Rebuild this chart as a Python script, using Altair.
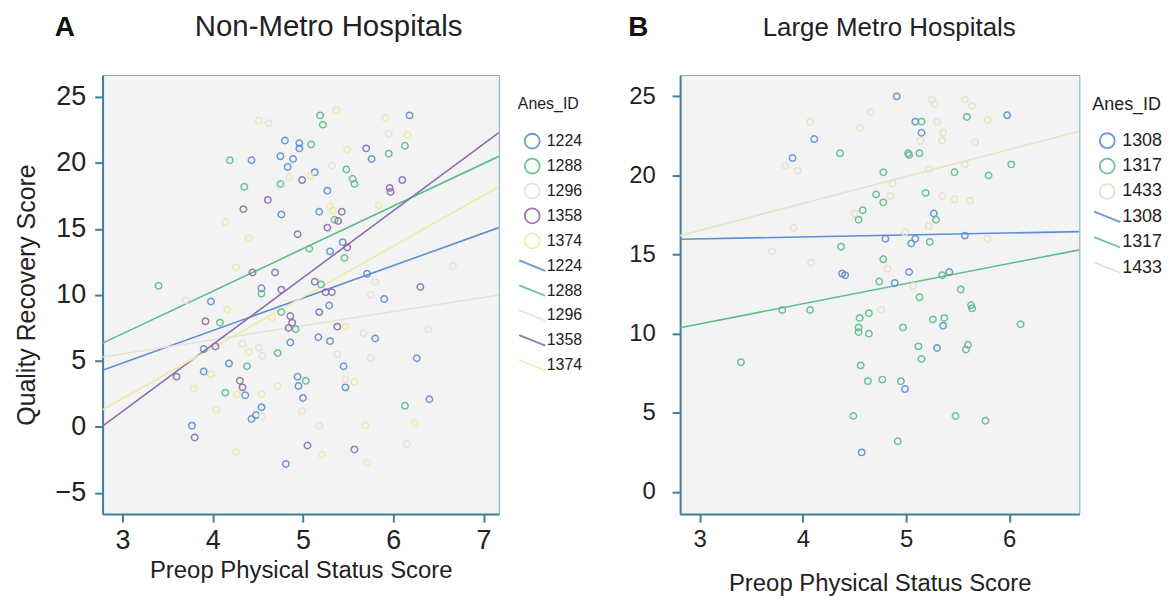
import altair as alt
import pandas as pd

# ---------------- Panel A: Non-Metro Hospitals ----------------
a_ids = ["1224", "1288", "1296", "1358", "1374"]
a_colors = ["#5b8fd3", "#5dbd8a", "#e2e5d3", "#8e6cae", "#f0e9a4"]

a_1224_x = [4.80, 4.43, 4.75, 4.89, 4.83, 4.96, 4.96, 4.76, 4.54, 3.98, 6.18, 5.76, 5.13, 5.27, 5.18,
            5.44, 5.30, 5.71, 5.29, 5.90, 4.86, 3.90, 4.18, 3.90, 4.36, 4.54, 4.48, 4.43, 4.94, 4.95,
            3.77, 4.81, 5.17, 5.30, 5.80, 6.26, 5.45, 5.47, 5.00, 6.40, 5.57]
a_1224_y = [21.7, 20.2, 20.5, 20.3, 19.7, 21.5, 21.1, 16.1, 10.5, 9.5, 23.6, 20.3, 19.3, 17.9, 16.3,
            14.0, 13.3, 11.6, 9.2, 9.7, 6.4, 5.9, 4.8, 4.2, 2.4, 1.5, 0.9, 0.6, 3.8, 3.1,
            0.1, -2.8, 6.8, 6.5, 6.7, 5.2, 4.6, 3.0, 2.2, 2.1, -1.7]

a_1288_x = [4.19, 4.35, 4.75, 3.40, 4.54, 5.19, 5.22, 5.09, 5.95, 6.13, 5.48, 5.55, 5.57, 5.35, 5.07,
            5.46, 5.20, 4.08, 4.76, 4.92, 4.38, 4.72, 4.14, 5.03, 6.13]
a_1288_y = [20.2, 18.2, 18.4, 10.7, 10.1, 23.6, 22.9, 21.4, 20.7, 21.3, 19.5, 18.8, 18.4, 15.7, 13.5,
            12.8, 10.8, 7.9, 8.7, 7.4, 4.6, 5.6, 2.6, 3.5, 1.6]

a_1296_x = [5.95, 5.32, 6.66, 5.80, 5.75, 4.33, 4.51, 4.55, 4.55, 5.67, 6.39, 5.75, 5.38, 5.47, 4.99,
            5.18, 6.15, 4.62, 3.70]
a_1296_y = [22.2, 19.8, 12.2, 11.0, 10.0, 6.3, 6.0, 5.4, 0.8, 7.1, 7.4, 5.2, 5.5, 3.6, 1.2,
            0.1, -1.3, 23.0, 9.6]

a_1358_x = [4.34, 4.61, 4.94, 4.44, 4.69, 4.76, 5.70, 4.99, 6.10, 5.96, 5.97, 5.43, 5.39, 5.27, 5.49,
            5.13, 5.25, 5.32, 6.30, 3.92, 4.86, 4.88, 4.84, 4.03, 3.60, 4.30, 4.33, 3.80, 5.18, 5.38,
            5.05]
a_1358_y = [16.5, 17.2, 14.6, 11.7, 11.7, 10.4, 21.1, 18.7, 18.7, 18.1, 17.8, 16.3, 15.6, 15.1, 13.6,
            11.0, 10.2, 10.2, 10.6, 8.0, 8.4, 7.9, 7.5, 6.1, 3.8, 3.5, 3.0, -0.8, 8.7, 7.6,
            -1.4]

a_1374_x = [4.51, 4.85, 4.14, 4.40, 4.26, 5.37, 5.91, 6.16, 5.49, 5.08, 5.84, 5.30, 5.33, 4.16, 4.66,
            4.40, 3.79, 3.98, 4.27, 4.54, 4.04, 4.72, 4.26, 5.47, 6.24, 5.69, 5.21, 5.71, 5.57]
a_1374_y = [23.2, 18.9, 15.5, 14.3, 12.1, 24.0, 23.4, 22.1, 21.0, 19.0, 16.8, 16.7, 16.4, 8.9, 8.3,
            5.7, 2.9, 4.0, 2.5, 2.5, 1.3, 3.1, -1.9, 7.6, 0.3, 0.1, -2.1, -2.7, 3.4]

# fitted lines: value at left and right edge of the x domain
a_xdom = [2.78, 7.17]
a_fit_left = [4.3, 6.35, 5.3, 0.06, 1.3]
a_fit_right = [15.1, 20.5, 10.0, 22.3, 18.2]

# ---------------- Panel B: Large Metro Hospitals ----------------
b_ids = ["1308", "1317", "1433"]
b_colors = ["#5b8fd3", "#5dbd8a", "#e8e1c6"]

b_1308_x = [4.11, 3.90, 4.38, 4.91, 5.09, 5.15, 5.98, 5.27, 4.80, 5.09, 5.05, 5.57, 4.41, 5.03, 5.42,
            4.89, 5.36, 5.30, 4.99, 4.57]
b_1308_y = [22.3, 21.1, 13.8, 25.0, 23.4, 22.7, 23.8, 17.6, 16.0, 16.0, 15.7, 16.2, 13.7, 13.9, 13.9,
            13.2, 10.5, 9.1, 6.5, 2.5]

b_1317_x = [4.36, 4.37, 5.15, 5.59, 5.02, 5.03, 5.13, 6.02, 4.78, 5.47, 5.80, 4.71, 4.78, 5.19, 4.58,
            4.54, 5.29, 5.23, 4.78, 5.35, 4.74, 5.53, 5.13, 5.63, 5.64, 3.80, 4.07, 3.40, 4.55, 4.64,
            4.54, 4.54, 4.64, 4.97, 5.26, 5.37, 6.11, 5.12, 5.60, 5.58, 5.15, 4.56, 4.63, 4.77, 4.95,
            4.49, 5.48, 5.77, 4.92]
b_1317_y = [21.4, 15.5, 23.4, 23.7, 21.4, 21.3, 21.4, 20.7, 20.2, 20.2, 20.0, 18.8, 18.3, 18.9, 17.8,
            17.2, 17.2, 15.8, 14.7, 13.7, 13.3, 12.8, 12.3, 11.8, 11.6, 11.5, 11.5, 8.2, 11.0, 11.3,
            10.4, 10.1, 10.0, 10.4, 10.9, 11.0, 10.6, 9.2, 9.3, 9.0, 8.4, 8.0, 7.0, 7.1, 7.0,
            4.8, 4.8, 4.5, 3.2]

b_1433_x = [4.07, 3.83, 3.95, 3.91, 3.70, 4.08, 5.25, 5.28, 5.57, 5.64, 4.66, 5.79, 4.55, 5.30, 5.36,
            5.35, 5.14, 5.67, 5.22, 5.57, 4.87, 4.85, 5.35, 5.47, 5.62, 4.50, 5.22, 4.99, 5.79, 4.82,
            5.07, 4.76]
b_1433_y = [23.4, 20.6, 20.3, 16.7, 15.2, 14.5, 24.8, 24.5, 24.8, 24.4, 24.0, 23.5, 23.0, 23.4, 22.7,
            22.2, 22.2, 22.1, 20.4, 20.7, 19.5, 18.7, 18.7, 18.5, 18.4, 17.6, 16.8, 16.4, 16.0, 14.1,
            13.0, 11.5]

b_xdom = [2.81, 6.68]
b_fit_left = [15.97, 10.38, 16.2]
b_fit_right = [16.45, 15.3, 22.8]

LINE_SHAPE = "M-1.75,-0.7L1.75,0.7"
FONT = "Liberation Sans"
AXIS_COL = "#3f7f99"


def build_tables(ids, xs, ys, xdom, fl, fr):
    pts = []
    for i, gid in enumerate(ids):
        for xv, yv in zip(xs[i], ys[i]):
            pts.append({"x": xv, "y": yv, "key": "p" + gid})
    lines = []
    for i, gid in enumerate(ids):
        lines.append({"x": xdom[0], "y": fl[i], "key": "l" + gid})
        lines.append({"x": xdom[1], "y": fr[i], "key": "l" + gid})
    return pd.DataFrame(pts), pd.DataFrame(lines)


def panel(ids, colors, xs, ys, xdom, ydom, fl, fr, xvals, yvals, title, letter,
          width, height, label_size, label_pad, legend_title_size, legend_label_size, ytitle,
          title_x, title_size, letter_x, legend_x, legend_y, row_pad, leg_title_pad, xtitle_pad):
    pts_df, lines_df = build_tables(ids, xs, ys, xdom, fl, fr)
    keys = ["p" + g for g in ids] + ["l" + g for g in ids]
    rng = colors + colors
    shapes = ["circle"] * len(ids) + [LINE_SHAPE] * len(ids)
    leg = alt.Legend(title="Anes_ID", labelExpr="substring(datum.label, 1)",
                     orient="none", legendX=legend_x, legendY=legend_y,
                     titleFontSize=legend_title_size, titleFontWeight="normal",
                     titleFont=FONT, labelFont=FONT, labelFontSize=legend_label_size,
                     titleColor="#222", labelColor="#222", symbolSize=225,
                     symbolStrokeWidth=1.8, rowPadding=row_pad, titlePadding=leg_title_pad,
                     gridAlign="all", symbolOffset=6, labelOffset=6, padding=0)
    color = alt.Color("key:N", scale=alt.Scale(domain=keys, range=rng), legend=leg)
    shape = alt.Shape("key:N", scale=alt.Scale(domain=keys, range=shapes), legend=leg)
    xenc = alt.X("x:Q", scale=alt.Scale(domain=xdom, nice=False, zero=False),
                 axis=alt.Axis(values=xvals, title="Preop Physical Status Score",
                               labelFontSize=label_size, titleFontSize=24,
                               titlePadding=xtitle_pad, labelPadding=6, grid=False))
    yaxis = dict(values=yvals, labelFontSize=label_size, labelPadding=label_pad, grid=False)
    if ytitle:
        yaxis.update(title=ytitle, titleFontSize=25, titlePadding=16)
    else:
        yaxis.update(title=None)
    yenc = alt.Y("y:Q", scale=alt.Scale(domain=ydom, nice=False, zero=False),
                 axis=alt.Axis(**yaxis))
    lines = alt.Chart(lines_df).mark_line(strokeWidth=1.6, clip=True).encode(
        x=xenc, y=yenc, color=color)
    pts = alt.Chart(pts_df).mark_point(filled=False, size=42, strokeWidth=1.5,
                                        opacity=0.9, clip=True).encode(
        x=xenc, y=yenc, color=color, shape=shape)
    lett = alt.Chart(pd.DataFrame({"t": [letter]})).mark_text(
        font=FONT, fontSize=28, fontWeight="bold", align="left", baseline="alphabetic",
        color="#111").encode(x=alt.value(letter_x), y=alt.value(-39), text="t:N")
    ttl = alt.Chart(pd.DataFrame({"t": [title]})).mark_text(
        font=FONT, fontSize=title_size, fontWeight="normal", align="center",
        baseline="alphabetic", color="#222").encode(
        x=alt.value(title_x), y=alt.value(-39), text="t:N")
    return alt.layer(lines, pts, lett, ttl).properties(width=width, height=height)


pa = panel(a_ids, a_colors,
           [a_1224_x, a_1288_x, a_1296_x, a_1358_x, a_1374_x],
           [a_1224_y, a_1288_y, a_1296_y, a_1358_y, a_1374_y],
           a_xdom, [-6.6, 26.66], a_fit_left, a_fit_right,
           [3, 4, 5, 6, 7], [-5, 0, 5, 10, 15, 20, 25],
           "Non-Metro Hospitals", "A", 398, 441, 27, 9, 16, 16, "Quality Recovery Score",
           227, 29.5, -48, 417, 21, 2, 21, 5)

pb = panel(b_ids, b_colors,
           [b_1308_x, b_1317_x, b_1433_x],
           [b_1308_y, b_1317_y, b_1433_y],
           b_xdom, [-1.4, 26.35], b_fit_left, b_fit_right,
           [3, 4, 5, 6], [0, 5, 10, 15, 20, 25],
           "Large Metro Hospitals", "B", 401, 441, 24, 17, 18, 18, None,
           210, 26, -52, 414, 21, 1.5, 18, 20)

chart = alt.hconcat(pa, pb, spacing=44).resolve_scale(
    x="independent", y="independent", color="independent", shape="independent"
).properties(
    padding={"left": 5, "top": 2, "right": 0, "bottom": 5}
).configure(background="white").configure_view(
    fill="#f3f3f3", stroke="#7fa9bb", strokeWidth=1
).configure_axis(
    domainColor=AXIS_COL, domainWidth=2, tickColor=AXIS_COL, tickWidth=2, tickSize=8,
    grid=False, labelFont=FONT, titleFont=FONT, labelColor="#222", titleColor="#222",
    titleFontWeight="normal"
)

chart.save("out.html", embed_options={"renderer": "svg", "actions": False})
